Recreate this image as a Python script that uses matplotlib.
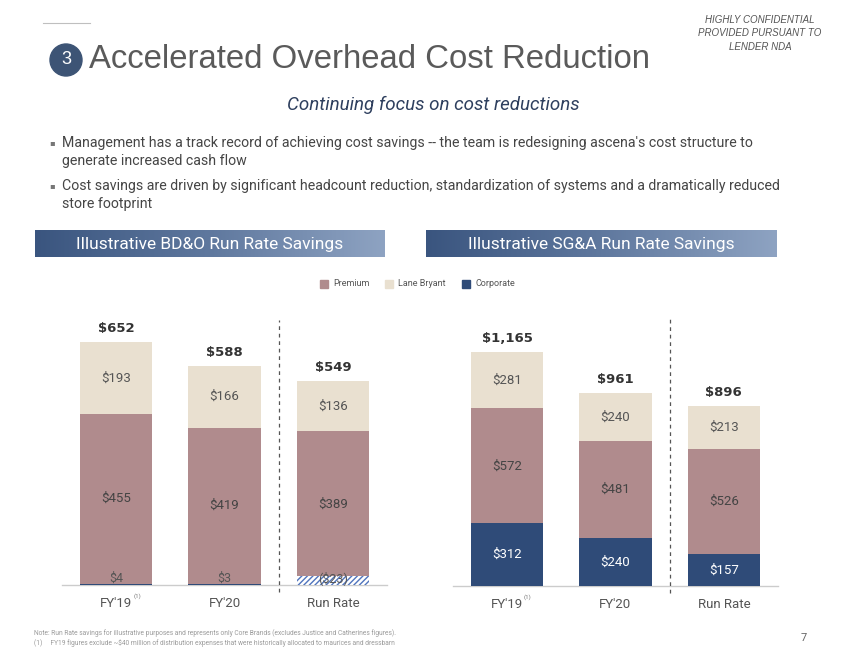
import numpy as np
import matplotlib.pyplot as plt
from matplotlib.patches import Ellipse, Rectangle

W, H = 850, 657

categories = ["FY'19", "FY'20", "Run Rate"]
bdo_corporate = [4, 3, -23]
bdo_premium = [455, 419, 389]
bdo_lane = [193, 166, 136]
bdo_total = [652, 588, 549]
sga_corporate = [312, 240, 157]
sga_premium = [572, 481, 526]
sga_lane = [281, 240, 213]
sga_total = [1165, 961, 896]

c_prem = '#b08b8d'
c_lane = '#e9e0d0'
c_corp = '#2f4b78'
narrow = ['Liberation Sans Narrow', 'Roboto', 'DejaVu Sans']
body = ['Liberation Sans', 'DejaVu Sans']

def fx(x):
    return x / W

def fy(y):
    return 1 - y / H

def money(v):
    return '(${:,})'.format(-v) if v < 0 else '${:,}'.format(v)

fig = plt.figure(figsize=(8.5, 6.57), dpi=100)

# header
fig.add_artist(plt.Line2D([fx(43), fx(90)], [fy(23), fy(23)], color='#bfbfbf', lw=0.8))
fig.add_artist(Ellipse((fx(66), fy(60)), 32 / W, 32 / H, transform=fig.transFigure, color='#3d5475'))
fig.text(fx(66), fy(60), '3', color='white', fontsize=13, ha='center', va='center', family=body)
fig.text(fx(89), fy(60), 'Accelerated Overhead Cost Reduction', fontsize=23.7, color='#5a5a5a',
         ha='left', va='center', family=body)
for i, t in enumerate(['HIGHLY CONFIDENTIAL', 'PROVIDED PURSUANT TO', 'LENDER NDA']):
    fig.text(fx(760), fy(20 + i * 13.5), t, fontsize=7, style='italic', color='#555555',
             ha='center', va='center', family=body)

fig.text(fx(433), fy(105), 'Continuing focus on cost reductions', fontsize=13.5, style='italic',
         color='#2e3f5e', ha='center', va='center', family=narrow)

bullets = [["Management has a track record of achieving cost savings -- the team is redesigning ascena's cost structure to",
            'generate increased cash flow'],
           ['Cost savings are driven by significant headcount reduction, standardization of systems and a dramatically reduced',
            'store footprint']]
for k, lines in enumerate(bullets):
    y0 = 143 + k * 43
    fig.text(fx(49), fy(y0), '\u25aa', fontsize=6, color='#777777', ha='left', va='center', family=['DejaVu Sans'])
    for j, ln in enumerate(lines):
        fig.text(fx(62), fy(y0 + j * 18), ln, fontsize=10.2, color='#454545', ha='left', va='center', family=narrow)

# section banners with gradient
grad = np.linspace(0, 1, 256).reshape(1, -1)
for x0, x1, title in [(35, 385, 'Illustrative BD&O Run Rate Savings'),
                      (426, 777, 'Illustrative SG&A Run Rate Savings')]:
    bax = fig.add_axes([fx(x0), fy(257), fx(x1) - fx(x0), 27 / H])
    bax.imshow(grad, aspect='auto', cmap=plt.matplotlib.colors.LinearSegmentedColormap.from_list(
        'g', ['#3a557f', '#5f789e', '#8ea3c2']), extent=(0, 1, 0, 1))
    bax.set_axis_off()
    bax.text(0.5, 0.47, title, color='white', fontsize=12.5, ha='center', va='center', family=narrow,
             transform=bax.transAxes)

# legend
for xs, lab, col in [(320, 'Premium', c_prem), (385, 'Lane Bryant', c_lane), (462, 'Corporate', c_corp)]:
    fig.add_artist(Rectangle((fx(xs), fy(288)), 8 / W, 8 / H, transform=fig.transFigure, color=col))
    fig.text(fx(xs + 13), fy(284), lab, fontsize=6.5, color='#555555', ha='left', va='center', family=narrow)


def draw_chart(x0, x1, base, top, scale, corp, prem, lane, total, dash_top):
    ax = fig.add_axes([fx(x0), fy(base), fx(x1) - fx(x0), (base - top) / H])
    ax.set_xlim(-0.5, 2.5)
    ax.set_ylim(0, (base - top) / scale)
    ax.set_axis_off()
    xs = np.arange(len(categories))
    wd = 0.67
    for i in xs:
        c = corp[i]
        if c < 0:
            ax.bar(i, -c, wd, bottom=0, color='white', edgecolor='#4f74bd', hatch='//////', linewidth=0)
            pb = -c
        else:
            ax.bar(i, c, wd, bottom=0, color=c_corp, linewidth=0)
            pb = c
        ax.bar(i, prem[i], wd, bottom=pb, color=c_prem, linewidth=0)
        ax.bar(i, lane[i], wd, bottom=pb + prem[i], color=c_lane, linewidth=0)
        top_v = pb + prem[i] + lane[i]
        # segment labels
        if abs(c) < 40:
            ax.text(i, 0, money(c), ha='center', va='bottom', fontsize=9, color='#555555', family=narrow)
        else:
            ax.text(i, c / 2, money(c), ha='center', va='center', fontsize=9.5, color='white', family=narrow)
        ax.text(i, pb + prem[i] / 2, money(prem[i]), ha='center', va='center', fontsize=9.5,
                color='#444444', family=narrow)
        ax.text(i, pb + prem[i] + lane[i] / 2, money(lane[i]), ha='center', va='center', fontsize=9.5,
                color='#555555', family=narrow)
        ax.annotate(money(total[i]), (i, top_v), xytext=(0, 5), textcoords='offset points', ha='center',
                    va='bottom', fontsize=9.5, fontweight='bold', color='#333333', family=['DejaVu Sans'])
        ax.annotate(categories[i], (i, 0), xytext=(0, -13), textcoords='offset points', ha='center',
                    va='center', fontsize=9.5, color='#555555', family=narrow, annotation_clip=False)
    ax.annotate('(1)', (0, 0), xytext=(15, -8), textcoords='offset points', ha='center', va='center',
                fontsize=4.5, color='#777777', family=narrow, annotation_clip=False)
    ax.axhline(0, color='#cccccc', lw=1, clip_on=False, zorder=0)
    ax.plot([1.5, 1.5], [-7 / scale, (base - dash_top) / scale], color='#555555', lw=0.9,
            ls=(0, (3, 3)), clip_on=False)
    return ax


draw_chart(62, 387, 585, 300, 0.3727, bdo_corporate, bdo_premium, bdo_lane, bdo_total, 320)
draw_chart(453, 778, 586, 300, 0.2009, sga_corporate, sga_premium, sga_lane, sga_total, 318)

fig.text(fx(34), fy(633), 'Note: Run Rate savings for illustrative purposes and represents only Core Brands (excludes Justice and Catherines figures).',
         fontsize=4.8, color='#9a9a9a', ha='left', va='center', family=narrow)
fig.text(fx(34), fy(643), '(1)     FY19 figures exclude ~$40 million of distribution expenses that were historically allocated to maurices and dressbarn',
         fontsize=4.8, color='#9a9a9a', ha='left', va='center', family=narrow)
fig.text(fx(804), fy(638), '7', fontsize=8, color='#666666', ha='center', va='center', family=narrow)

fig.savefig('out.png', dpi=100)
